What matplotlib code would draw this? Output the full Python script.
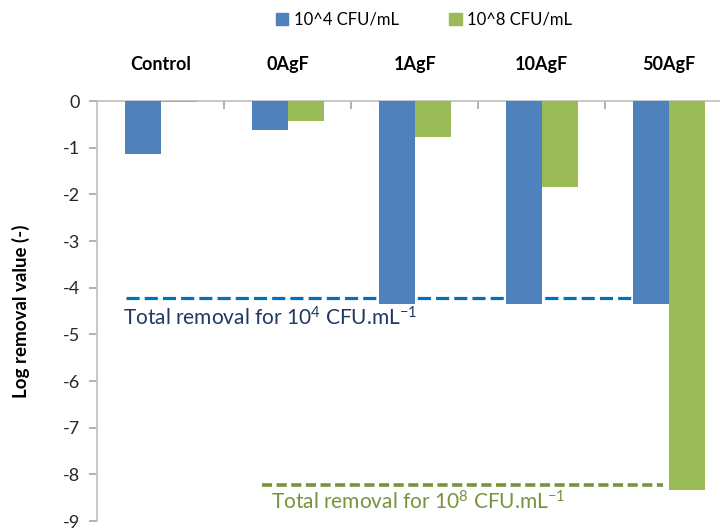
import matplotlib
matplotlib.use("Agg")
import matplotlib.pyplot as plt
from matplotlib.patches import Patch
import numpy as np

plt.rcParams['font.family'] = ['Lato', 'DejaVu Sans']
plt.rcParams['mathtext.fontset'] = 'custom'
plt.rcParams['mathtext.rm'] = 'Lato'
plt.rcParams['mathtext.default'] = 'regular'

# data
categories = ["Control", "0AgF", "1AgF", "10AgF", "50AgF"]
series_names = ["10^4 CFU/mL", "10^8 CFU/mL"]
lrv_1e4 = [-1.13, -0.62, -4.35, -4.35, -4.35]
lrv_1e8 = [-0.03, -0.42, -0.77, -1.85, -8.33]
total_removal_1e4 = -4.22
total_removal_1e8 = -8.22

blue = '#4F81BD'
green = '#9BBB59'

W, H = 720, 530
fig = plt.figure(figsize=(W / 100, H / 100), dpi=100)
# axes runs past the right edge, like the cropped original
ax = fig.add_axes([97 / W, 1 - 521 / H, 635.5 / W, 420 / H])

x = np.arange(len(categories))
bw = 0.283
ax.bar(x - bw / 2, lrv_1e4, bw, color=blue, zorder=3)
ax.bar(x + bw / 2, lrv_1e8, bw, color=green, zorder=3)

# total removal reference lines
ax.plot([-0.272, 3.72], [total_removal_1e4] * 2, color='#0070C0', lw=2.3,
        dashes=(4.1, 1.6), dash_capstyle='butt', zorder=2)
ax.plot([0.80, 3.95], [total_removal_1e8] * 2, color='#77933C', lw=2.6,
        dashes=(2.8, 1.25), dash_capstyle='butt', zorder=2)
ax.text(-0.295, -4.80, "Total removal for 10$^{4}$ CFU.mL$^{-1}$",
        color='#1F3864', fontsize=15, va='baseline', ha='left')
ax.text(0.869, -8.76, "Total removal for 10$^{8}$ CFU.mL$^{-1}$",
        color='#77933C', fontsize=15, va='baseline', ha='left')

ax.set_xlim(-0.5, len(categories) - 0.5)
ax.set_ylim(-9, 0)
ax.set_yticks(np.arange(-9, 1, 1))
ax.set_yticklabels([str(v) for v in range(-9, 1)])

for s in ['right', 'bottom']:
    ax.spines[s].set_visible(False)
for s in ['top', 'left']:
    ax.spines[s].set_color('#BFBFBF')
    ax.spines[s].set_linewidth(1.2)

ax.xaxis.tick_top()
ax.set_xticks(x)
ax.set_xticklabels(categories, fontsize=13, fontweight='bold')
ax.set_xticks(np.arange(0.5, len(categories) - 0.5, 1), minor=True)
ax.tick_params(axis='x', which='major', length=0, pad=20)
ax.tick_params(axis='x', which='minor', direction='in', length=6,
               color='#A6A6A6', width=1.2)
ax.tick_params(axis='y', direction='out', length=6, color='#A6A6A6',
               width=1.2, labelsize=13, labelcolor='#262626', pad=6)
ax.set_ylabel("Log removal value (-)", fontsize=13.5, fontweight='bold')
ax.yaxis.set_label_coords(-0.106, 0.5)

handles = [Patch(color=blue), Patch(color=green)]
fig.legend(handles, series_names, loc='center', ncol=2,
           bbox_to_anchor=(424 / W, 1 - 20 / H), frameon=False, fontsize=12,
           handlelength=0.75, handleheight=0.75, handletextpad=0.35,
           columnspacing=3.0)

fig.savefig("out.png", dpi=100)
